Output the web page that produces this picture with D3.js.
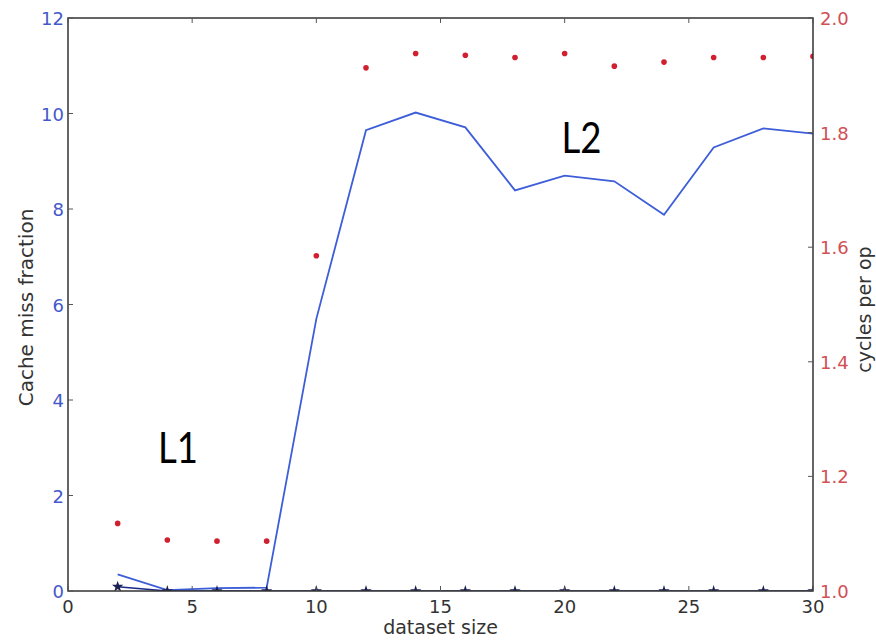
<!DOCTYPE html>
<html><head><meta charset="utf-8">
<script src="https://cdn.jsdelivr.net/npm/d3@7"></script>
<style>body{margin:0;background:#fff}svg{display:block}</style>
</head><body>
<svg id="c" width="876" height="640"></svg>
<script>
const sizes = [2,4,6,8,10,12,14,16,18,20,22,24,26,28,30];
const missFraction = [0.35,0.02,0.06,0.07,5.7,9.65,10.02,9.71,8.39,8.70,8.58,7.88,9.29,9.69,9.58];
const l1Fraction = [0.09,0.0,0.0,0.0,0.0,0.0,0.0,0.0,0.0,0.0,0.0,0.0,0.0,0.0,0.0];
const cyclesPerOp = [1.118,1.089,1.087,1.087,1.585,1.913,1.938,1.935,1.931,1.938,1.916,1.923,1.931,1.931,1.933];
const xTicks = [0,5,10,15,20,25,30];
const leftTicks = [0,2,4,6,8,10,12];
const rightTicks = [1.0,1.2,1.4,1.6,1.8,2.0];
const annotations = [{text:"L1", x:4.43, y:2.68},{text:"L2", x:20.68, y:9.18}];

const svg = d3.select("#c");
const m = {l:68, t:18, r:813, b:591};
const x = d3.scaleLinear().domain([0,30]).range([m.l, m.r]);
const yL = d3.scaleLinear().domain([0,12]).range([m.b, m.t]);
const yR = d3.scaleLinear().domain([1,2]).range([m.b, m.t]);
const font = "DejaVu Sans, sans-serif";

svg.append("defs").append("clipPath").attr("id","clip")
  .append("rect").attr("x",m.l).attr("y",m.t).attr("width",m.r-m.l).attr("height",m.b-m.t);

const plot = svg.append("g").attr("clip-path","url(#clip)");

// blue line
plot.append("path").datum(sizes.map((s,i)=>[s,missFraction[i]]))
  .attr("d", d3.line().x(d=>x(d[0])).y(d=>yL(d[1])))
  .attr("fill","none").attr("stroke","#3d5ed8").attr("stroke-width",1.8);

// dark L1 line with star markers
plot.append("path").datum(sizes.map((s,i)=>[s,l1Fraction[i]]))
  .attr("d", d3.line().x(d=>x(d[0])).y(d=>yL(d[1])))
  .attr("fill","none").attr("stroke","#1a2a8a").attr("stroke-width",1.6);
plot.selectAll(".star").data(sizes.map((s,i)=>[s,l1Fraction[i]])).enter()
  .append("path")
  .attr("d", d3.symbol().type(d3.symbolStar).size(40))
  .attr("transform", d=>`translate(${x(d[0])},${yL(d[1])})`)
  .attr("fill","#1a2050");

// red dots
plot.selectAll(".dot").data(sizes.map((s,i)=>[s,cyclesPerOp[i]])).enter()
  .append("circle").attr("cx",d=>x(d[0])).attr("cy",d=>yR(d[1])).attr("r",2.8)
  .attr("fill","#d02030");

// frame
svg.append("rect").attr("x",m.l).attr("y",m.t).attr("width",m.r-m.l).attr("height",m.b-m.t)
  .attr("fill","none").attr("stroke","#333").attr("stroke-width",1.5);

// x ticks
const gx = svg.append("g");
xTicks.forEach(t=>{
  gx.append("line").attr("x1",x(t)).attr("x2",x(t)).attr("y1",m.b).attr("y2",m.b-5).attr("stroke","#555");
  gx.append("line").attr("x1",x(t)).attr("x2",x(t)).attr("y1",m.t).attr("y2",m.t+5).attr("stroke","#555");
  gx.append("text").attr("x",x(t)).attr("y",m.b+22).attr("text-anchor","middle")
    .attr("font-family",font).attr("font-size",18).attr("fill","#333").text(t);
});
svg.append("text").attr("x",(m.l+m.r)/2).attr("y",634).attr("text-anchor","middle")
  .attr("font-family",font).attr("font-size",19).attr("fill","#333").text("dataset size");

// left ticks
leftTicks.forEach(t=>{
  svg.append("line").attr("x1",m.l).attr("x2",m.l+5).attr("y1",yL(t)).attr("y2",yL(t)).attr("stroke","#555");
  svg.append("text").attr("x",m.l-4).attr("y",yL(t)+7).attr("text-anchor","end")
    .attr("font-family",font).attr("font-size",18).attr("fill","#4458cc").text(t);
});
svg.append("text").attr("transform",`translate(33,307.5) rotate(-90)`).attr("text-anchor","middle")
  .attr("font-family",font).attr("font-size",20).attr("fill","#333").text("Cache miss fraction");

// right ticks
rightTicks.forEach(t=>{
  svg.append("line").attr("x1",m.r).attr("x2",m.r-5).attr("y1",yR(t)).attr("y2",yR(t)).attr("stroke","#555");
  svg.append("text").attr("x",m.r+7).attr("y",yR(t)+7).attr("text-anchor","start")
    .attr("font-family",font).attr("font-size",18).attr("fill","#d05055").text(t.toFixed(1));
});
svg.append("text").attr("transform",`translate(871,309.5) rotate(-90)`).attr("text-anchor","middle")
  .attr("font-family",font).attr("font-size",19).attr("fill","#333").text("cycles per op");

// annotations
annotations.forEach(a=>{
  svg.append("text").attr("x",x(a.x)).attr("y",yL(a.y)).attr("text-anchor","middle")
    .attr("font-family","Lato, sans-serif").attr("font-size",42).attr("fill","#000")
    .attr("textLength",40).attr("lengthAdjust","spacingAndGlyphs").text(a.text);
});
</script>
</body></html>
